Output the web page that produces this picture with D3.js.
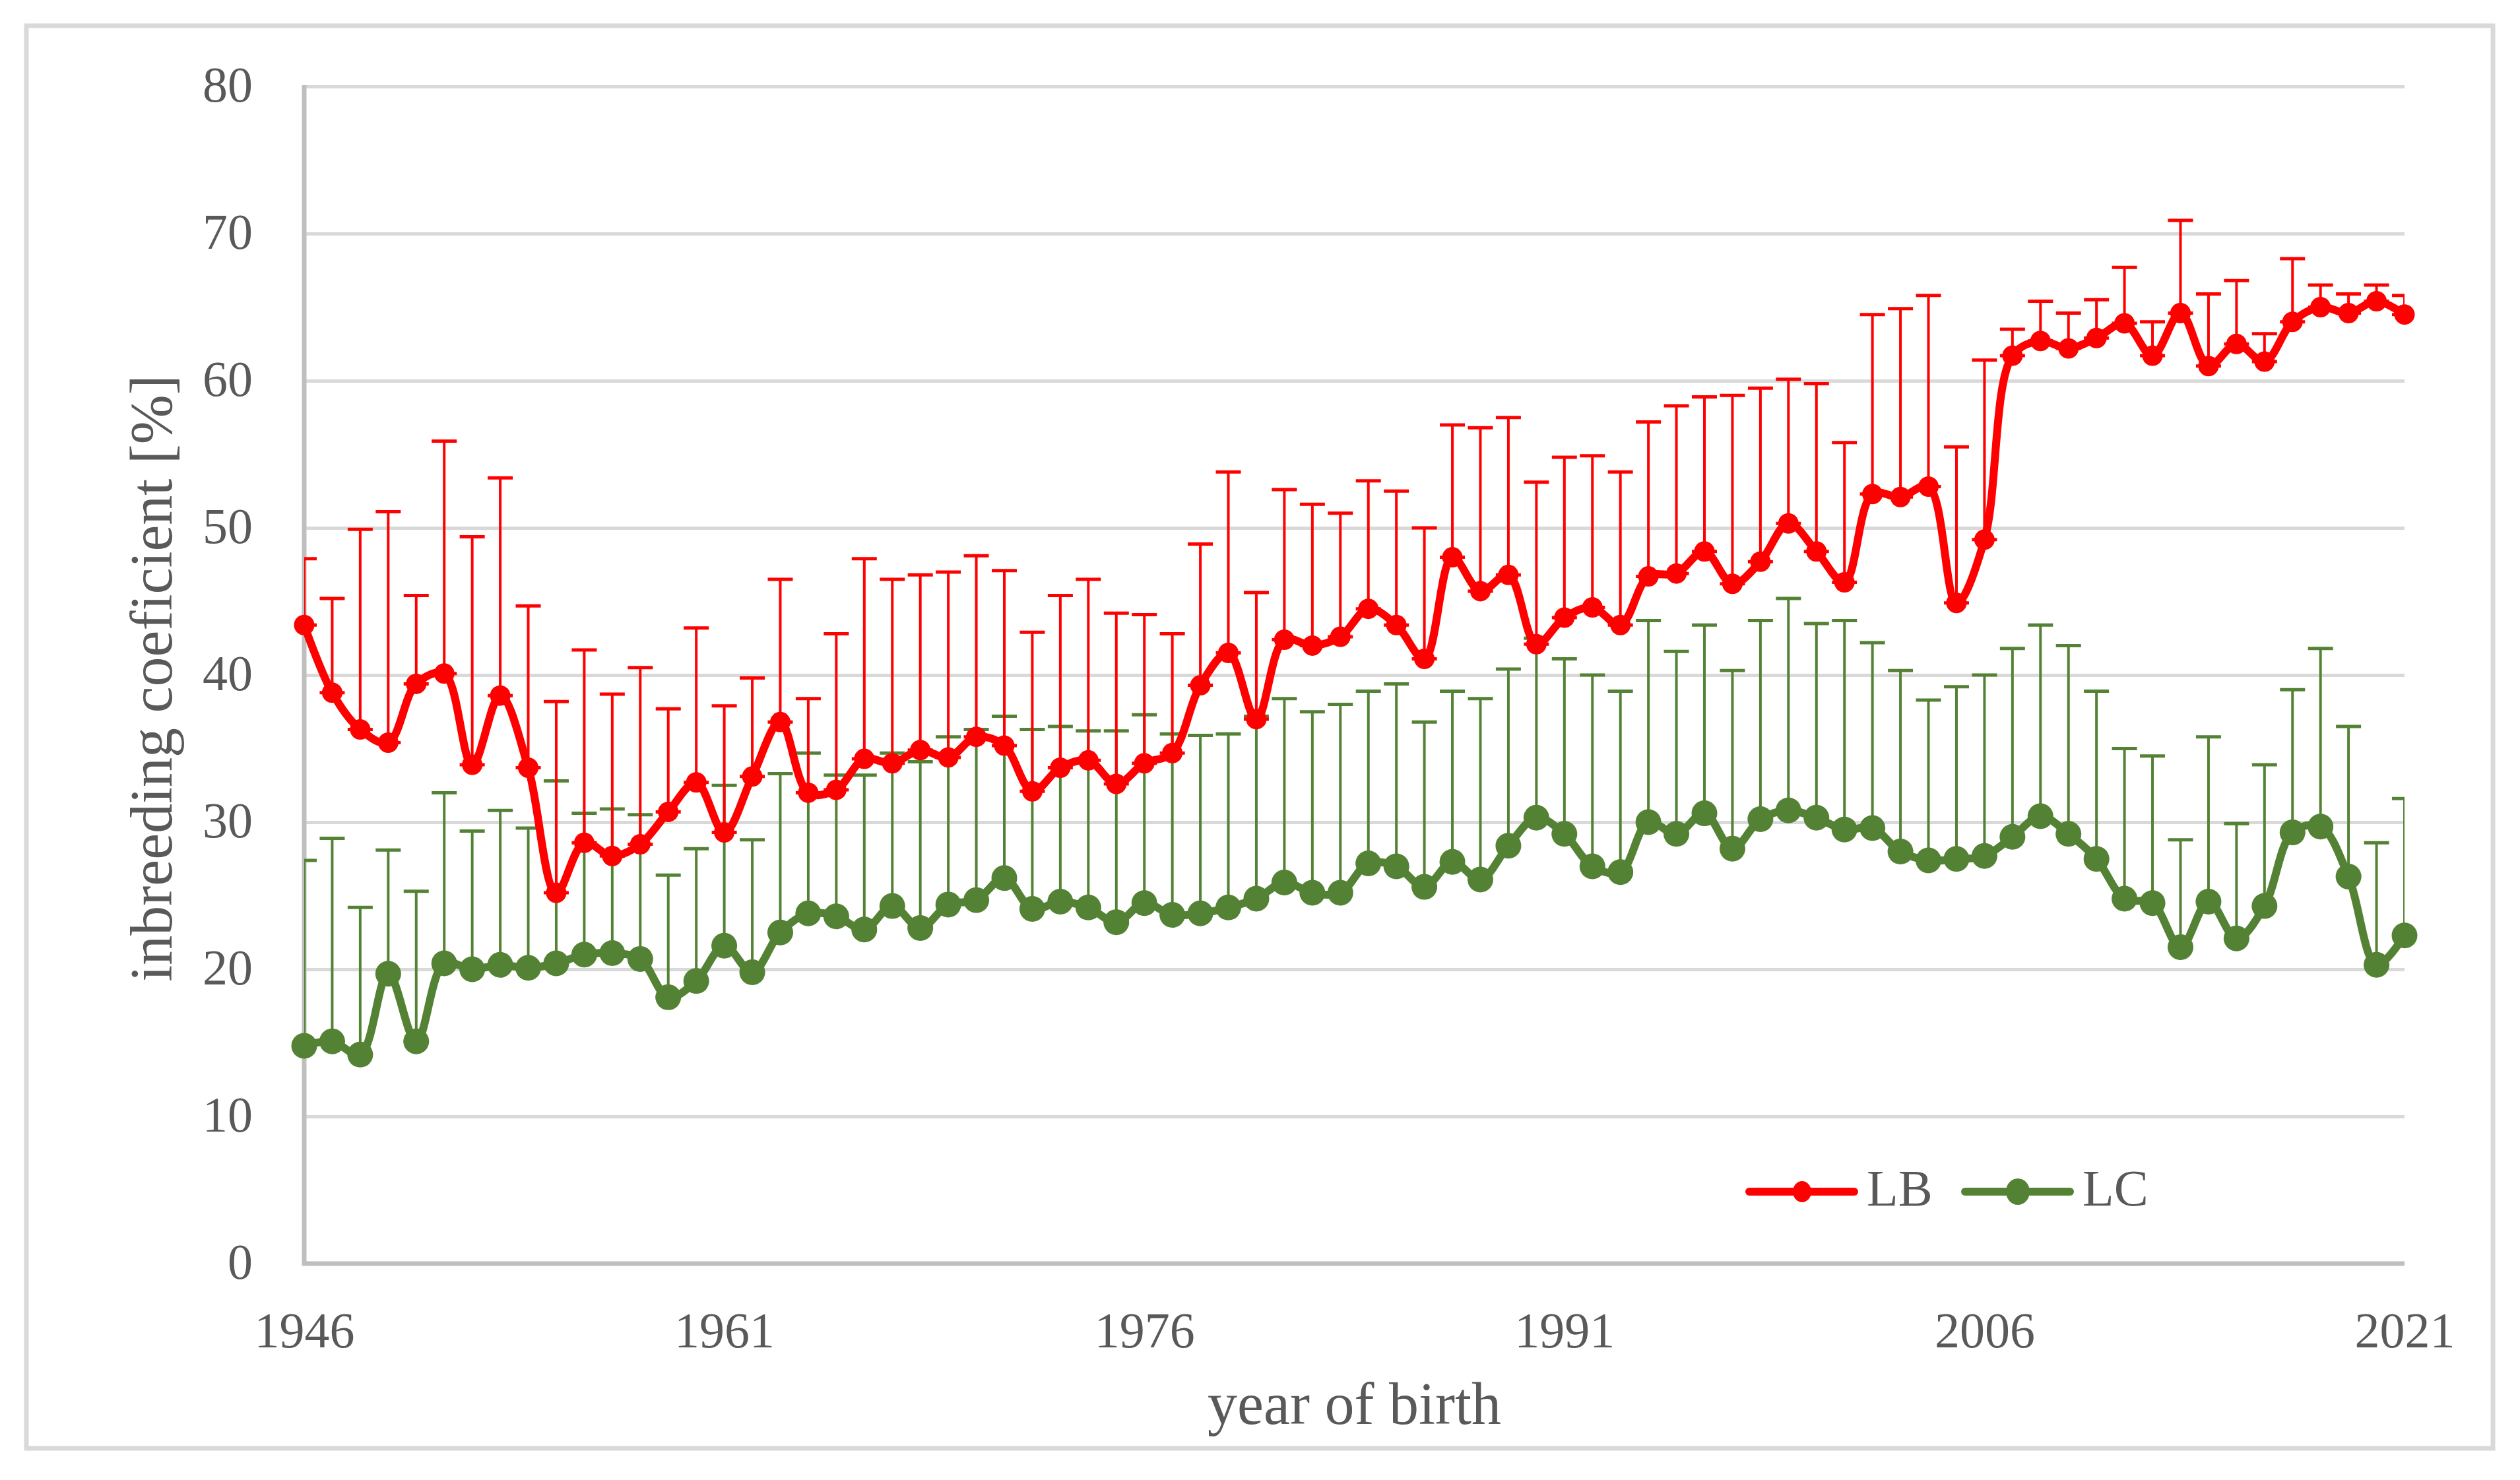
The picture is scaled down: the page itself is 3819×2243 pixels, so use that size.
<!DOCTYPE html>
<html>
<head>
<meta charset="utf-8">
<script src="https://cdn.jsdelivr.net/npm/d3@7/dist/d3.min.js"></script>
<style>
  body { margin: 0; background: #ffffff; }
  text { font-family: "Liberation Serif", "DejaVu Serif", serif; fill: #595959; }
</style>
</head>
<body>
<svg id="chart" width="3819" height="2243"></svg>
<script>
// categories
const years = d3.range(1946, 2022);
const tickYears = [1946, 1961, 1976, 1991, 2006, 2021];
const yTicks = [0, 10, 20, 30, 40, 50, 60, 70, 80];

// LB: mean and plus error (sd)
const lbMean = [
  43.4, 38.8, 36.3, 35.4, 39.4, 40.1, 33.9, 38.6, 33.7, 25.2,
  28.6, 27.7, 28.5, 30.7, 32.7, 29.3, 33.1, 36.8, 32.0, 32.2,
  34.3, 34.0, 34.9, 34.4, 35.8, 35.2, 32.1, 33.7, 34.2, 32.6,
  34.0, 34.7, 39.3, 41.5, 37.0, 42.4, 42.0, 42.6, 44.5, 43.4,
  41.1, 48.0, 45.7, 46.8, 42.1, 43.9, 44.6, 43.4, 46.7, 46.9,
  48.4, 46.2, 47.7, 50.3, 48.4, 46.3, 52.3, 52.1, 52.8, 44.9,
  49.2, 61.7, 62.7, 62.2, 62.9, 63.9, 61.7, 64.6, 61.0, 62.5,
  61.3, 64.0, 65.0, 64.6, 65.4, 64.5
];
const lbSd = [
  4.5, 6.4, 13.6, 15.7, 6.0, 15.8, 15.5, 14.8, 11.0, 13.0,
  13.1, 11.0, 12.0, 7.0, 10.5, 8.6, 6.7, 9.7, 6.4, 10.6,
  13.6, 12.5, 11.9, 12.6, 12.3, 11.9, 10.8, 11.7, 12.3, 11.6,
  10.1, 8.1, 9.6, 12.3, 8.6, 10.2, 9.6, 8.4, 8.7, 9.1,
  8.9, 9.0, 11.1, 10.7, 11.0, 10.9, 10.3, 10.4, 10.5, 11.4,
  10.5, 12.8, 11.8, 9.8, 11.4, 9.5, 12.2, 12.8, 13.0, 10.6,
  12.2, 1.8, 2.7, 2.4, 2.6, 3.8, 2.3, 6.3, 4.9, 4.3,
  1.9, 4.3, 1.5, 1.3, 1.1, 1.3
];

// LC: mean and plus error (sd)
const lcMean = [
  14.8, 15.1, 14.2, 19.7, 15.1, 20.4, 20.0, 20.3, 20.1, 20.4,
  21.0, 21.1, 20.7, 18.1, 19.2, 21.6, 19.8, 22.5, 23.8, 23.6,
  22.7, 24.3, 22.8, 24.4, 24.7, 26.2, 24.1, 24.6, 24.2, 23.2,
  24.5, 23.7, 23.8, 24.2, 24.8, 25.9, 25.2, 25.2, 27.2, 27.0,
  25.6, 27.3, 26.1, 28.4, 30.3, 29.2, 27.0, 26.6, 30.0, 29.2,
  30.6, 28.2, 30.2, 30.8, 30.3, 29.5, 29.6, 28.0, 27.4, 27.5,
  27.7, 29.0, 30.4, 29.2, 27.5, 24.8, 24.5, 21.5, 24.6, 22.1,
  24.3, 29.3, 29.7, 26.3, 20.3, 22.3
];
const lcSd = [
  12.6, 13.8, 10.0, 8.4, 10.2, 11.6, 9.4, 10.5, 9.5, 12.4,
  9.6, 9.8, 9.8, 8.3, 9.0, 10.9, 9.0, 10.8, 10.9, 9.6,
  10.5, 10.4, 11.3, 11.4, 11.6, 11.0, 12.2, 11.9, 12.0, 13.0,
  12.8, 12.3, 12.1, 11.8, 12.4, 12.5, 12.3, 12.8, 11.7, 12.4,
  11.2, 11.6, 12.3, 12.0, 12.2, 11.9, 13.0, 12.3, 13.7, 12.4,
  12.8, 12.1, 13.5, 14.4, 13.2, 14.2, 12.6, 12.3, 10.9, 11.7,
  12.3, 12.8, 13.0, 12.8, 11.4, 10.2, 10.0, 7.3, 11.2, 7.8,
  9.6, 9.7, 12.1, 10.2, 8.3, 9.3
];

const seriesNames = ['LB', 'LC'];
const seriesColors = ['#ff0000', '#548235'];

const svg = d3.select('#chart');
const plotLeft = 461, plotRight = 3644, plotTop = 131, plotBottom = 1915;

const x = d3.scalePoint().domain(years).range([plotLeft, plotRight]);
const y = d3.scaleLinear().domain([0, 80]).range([plotBottom, plotTop]);

// outer chart border
svg.append('rect')
    .attr('x', 40).attr('y', 39)
    .attr('width', 3738).attr('height', 2156)
    .attr('fill', 'none')
    .attr('stroke', '#d9d9d9')
    .attr('stroke-width', 7);

// gridlines + y labels
const yAxis = svg.append('g')
    .attr('transform', `translate(${plotLeft},0)`)
    .call(d3.axisLeft(y).tickValues(yTicks).tickSize(-(plotRight - plotLeft)).tickPadding(78));
yAxis.select('.domain').remove();
yAxis.selectAll('line').attr('stroke', '#d9d9d9').attr('stroke-width', 5);
yAxis.selectAll('text')
    .attr('font-size', 76)
    .attr('font-family', '"Liberation Serif", serif')
    .attr('fill', '#595959')
    .attr('dy', '0.29em');

// x labels
const xAxis = svg.append('g')
    .attr('transform', `translate(0,${plotBottom})`)
    .call(d3.axisBottom(x).tickValues(tickYears).tickSize(0).tickPadding(80));
xAxis.select('.domain').remove();
xAxis.selectAll('text')
    .attr('font-size', 76)
    .attr('font-family', '"Liberation Serif", serif')
    .attr('fill', '#595959')
    .attr('dy', '0.62em');

// axis lines
svg.append('line')
    .attr('x1', plotLeft).attr('x2', plotLeft)
    .attr('y1', plotTop - 2).attr('y2', plotBottom + 3)
    .attr('stroke', '#bfbfbf').attr('stroke-width', 7);
svg.append('line')
    .attr('x1', plotLeft - 3).attr('x2', plotRight)
    .attr('y1', plotBottom).attr('y2', plotBottom)
    .attr('stroke', '#bfbfbf').attr('stroke-width', 7);

// axis titles
svg.append('text')
    .attr('x', (plotLeft + plotRight) / 2)
    .attr('y', 2158)
    .attr('text-anchor', 'middle')
    .attr('font-size', 90)
    .text('year of birth');

svg.append('text')
    .attr('transform', 'translate(260,1028) rotate(-90)')
    .attr('text-anchor', 'middle')
    .attr('font-size', 90)
    .text('inbreeding coeficient [%]');

svg.append('clipPath').attr('id', 'plotclip')
    .append('rect')
    .attr('x', plotLeft).attr('y', 0)
    .attr('width', plotRight - plotLeft).attr('height', 2243);

const line = d3.line()
    .x((d, i) => x(years[i]))
    .y((d) => y(d))
    .curve(d3.curveCatmullRom.alpha(0.5));

const capHalf = 19;

function drawSeries(mean, sd, color, r) {
    const bars = svg.append('g').attr('clip-path', 'url(#plotclip)');
    const data = mean.map((m, i) => ({ year: years[i], m: m, s: sd[i] }));

    bars.selectAll('.eb')
        .data(data)
        .enter()
        .append('line')
        .attr('x1', (d) => x(d.year))
        .attr('x2', (d) => x(d.year))
        .attr('y1', (d) => y(d.m))
        .attr('y2', (d) => y(d.m + d.s))
        .attr('stroke', color)
        .attr('stroke-width', 4);

    bars.selectAll('.cap')
        .data(data)
        .enter()
        .append('line')
        .attr('x1', (d) => x(d.year) - capHalf)
        .attr('x2', (d) => x(d.year) + capHalf)
        .attr('y1', (d) => y(d.m + d.s))
        .attr('y2', (d) => y(d.m + d.s))
        .attr('stroke', color)
        .attr('stroke-width', 5);

    bars.selectAll('.base')
        .data(data)
        .enter()
        .append('line')
        .attr('x1', (d) => x(d.year) - capHalf)
        .attr('x2', (d) => x(d.year) + capHalf)
        .attr('y1', (d) => y(d.m))
        .attr('y2', (d) => y(d.m))
        .attr('stroke', color)
        .attr('stroke-width', 5);

    svg.append('path')
        .datum(mean)
        .attr('d', line)
        .attr('fill', 'none')
        .attr('stroke', color)
        .attr('stroke-width', 12)
        .attr('stroke-linejoin', 'round')
        .attr('stroke-linecap', 'round');

    svg.append('g').selectAll('circle')
        .data(data)
        .enter()
        .append('circle')
        .attr('cx', (d) => x(d.year))
        .attr('cy', (d) => y(d.m))
        .attr('r', r)
        .attr('fill', color);
}

// LC first so LB sits on top
drawSeries(lcMean, lcSd, seriesColors[1], 19.5);
drawSeries(lbMean, lbSd, seriesColors[0], 15.5);

// legend
const legendItems = [
    { name: seriesNames[0], color: seriesColors[0], r: 15, x0: 2645 },
    { name: seriesNames[1], color: seriesColors[1], r: 19, x0: 2972 }
];
const legendY = 1806;
const legend = svg.append('g');
legendItems.forEach((it) => {
    legend.append('line')
        .attr('x1', it.x0 + 6).attr('x2', it.x0 + 165)
        .attr('y1', legendY).attr('y2', legendY)
        .attr('stroke', it.color)
        .attr('stroke-width', 12)
        .attr('stroke-linecap', 'round');
    legend.append('ellipse')
        .attr('cx', it.x0 + 86).attr('cy', legendY)
        .attr('rx', it.r - 1).attr('ry', it.r + 1)
        .attr('fill', it.color);
    legend.append('text')
        .attr('x', it.x0 + 184)
        .attr('y', 1827)
        .attr('font-size', 78)
        .text(it.name);
});
</script>
</body>
</html>
